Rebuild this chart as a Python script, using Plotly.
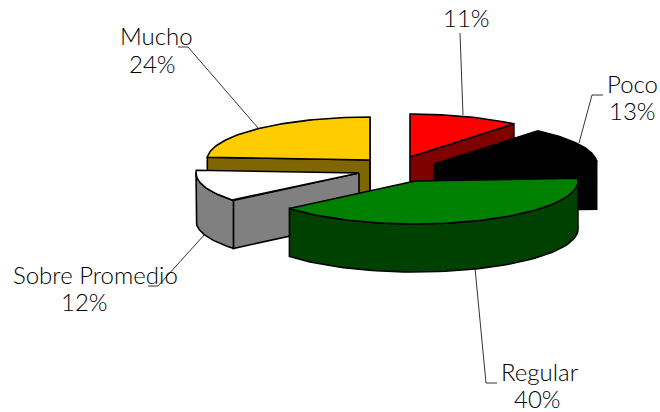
import numpy as np
import plotly.graph_objects as go

categories = ["Poco", "Regular", "Sobre Promedio", "Mucho", "Nada"]
values = [13, 40, 12, 24, 11]
top_colors = ["#000000", "#008000", "#ffffff", "#ffcc00", "#ff0000"]
side_colors = ["#000000", "#004000", "#808080", "#806600", "#800000"]
percent_labels = ["13%", "40%", "12%", "24%", "11%"]

# projected pie geometry, in page pixels
RX, RY, DEPTH = 163, 43, 48
START = 39.6  # degrees clockwise from 12 o'clock where the first slice begins
apex = {"Poco": (434, 164), "Regular": (415, 181), "Sobre Promedio": (359, 173),
        "Mucho": (370, 160), "Nada": (410, 157)}
draw_order = ["Mucho", "Nada", "Poco", "Sobre Promedio", "Regular"]

name_pos = {"Poco": (632, 83), "Regular": (540, 371), "Sobre Promedio": (95, 274),
            "Mucho": (156, 35)}
pct_pos = {"Poco": (632, 110), "Regular": (537, 398), "Sobre Promedio": (84, 301),
           "Mucho": (152, 63), "Nada": (466, 17)}
leaders = {"Poco": ([603, 592, 579], [95, 95, 143]),
           "Regular": ([497, 486, 475], [383, 383, 268]),
           "Sobre Promedio": ([148, 158, 205], [286, 286, 234]),
           "Mucho": ([178, 188, 258], [47, 47, 128]),
           "Nada": ([460, 463], [33, 115])}

fig = go.Figure()
LINE = dict(color="#000000", width=1.6)


def poly(xs, ys, fill):
    fig.add_trace(go.Scatter(x=xs, y=ys, mode="lines", fill="toself", fillcolor=fill,
                             line=LINE, hoverinfo="skip", showlegend=False))


# slice angular extents come from the values
edges = START + np.cumsum([0] + values) * 3.6
extent = {c: (edges[i], edges[i + 1], i) for i, c in enumerate(categories)}

for c in draw_order:
    a0, a1, i = extent[c]
    cx, cy = apex[c]
    t = np.radians(np.linspace(a0, a1, 60))
    ex = cx + RX * np.sin(t)
    ey = cy - RY * np.cos(t)
    side = side_colors[i]
    # flat cut faces that look towards the viewer
    for ang, visible in ((a0, a0 % 360 > 180), (a1, a1 % 360 < 180)):
        if visible:
            r = np.radians(ang)
            px, py = cx + RX * np.sin(r), cy - RY * np.cos(r)
            poly([cx, px, px, cx, cx], [cy, py, py + DEPTH, cy + DEPTH, cy], side)
    # curved outer wall
    mask = np.cos(t) <= 0
    if mask.any():
        wx, wy = ex[mask], ey[mask]
        poly(list(wx) + list(wx[::-1]) + [wx[0]],
             list(wy) + list((wy + DEPTH)[::-1]) + [wy[0]], side)
    # top face
    poly([cx] + list(ex) + [cx], [cy] + list(ey) + [cy], top_colors[i])

annotations = []


def label(text, pos):
    annotations.append(dict(x=pos[0], y=pos[1], xref="x", yref="y", text=text, showarrow=False,
                            xanchor="center", yanchor="middle", align="center",
                            font=dict(family="Lato", size=24, color="#000000", weight=300)))


for i, c in enumerate(categories):
    lx, ly = leaders[c]
    fig.add_trace(go.Scatter(x=lx, y=ly, mode="lines", line=dict(color="#000000", width=0.8),
                             hoverinfo="skip", showlegend=False))
    if c in name_pos:
        label(c, name_pos[c])
    label(percent_labels[i], pct_pos[c])

fig.update_layout(width=660, height=412, margin=dict(l=0, r=0, t=0, b=0),
                  paper_bgcolor="#ffffff", plot_bgcolor="#ffffff", showlegend=False,
                  xaxis=dict(range=[0, 660], visible=False, fixedrange=True),
                  yaxis=dict(range=[412, 0], visible=False, fixedrange=True),
                  annotations=annotations)
fig.write_html("out.html", config=dict(displayModeBar=False),
               post_script="document.body.style.margin='0';document.body.style.overflow='hidden';")
